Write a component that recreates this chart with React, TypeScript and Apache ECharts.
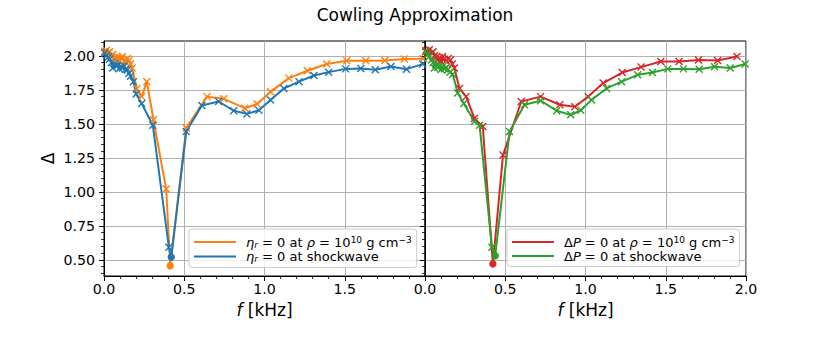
import React, { useEffect, useRef } from 'react';
import * as echarts from 'echarts';

// ---- data (frequency in kHz, Delta) ----
const fEtaRho = [0.005, 0.015, 0.025, 0.035, 0.045, 0.055, 0.065, 0.075, 0.085, 0.095, 0.105, 0.115, 0.125, 0.135, 0.145, 0.155, 0.165, 0.175, 0.204, 0.235, 0.267, 0.308, 0.3875, 0.4125, 0.5125, 0.642, 0.746, 0.877, 0.954, 1.0375, 1.152, 1.267, 1.3875, 1.5125, 1.631, 1.75, 1.871, 1.99];
const dEtaRho = [2.03, 2.04, 2.02, 2.03, 2.0, 2.01, 1.99, 1.97, 1.99, 1.96, 1.98, 1.995, 1.96, 1.95, 1.98, 1.965, 1.94, 1.91, 1.76, 1.7, 1.81, 1.53, 1.02, 0.456, 1.47, 1.7, 1.684, 1.615, 1.646, 1.735, 1.836, 1.89, 1.94, 1.963, 1.963, 1.966, 1.976, 1.978];

const fEtaShock = [0.005, 0.015, 0.025, 0.035, 0.045, 0.055, 0.065, 0.075, 0.085, 0.095, 0.105, 0.115, 0.125, 0.135, 0.145, 0.155, 0.165, 0.183, 0.2, 0.235, 0.304, 0.404, 0.419, 0.5125, 0.61, 0.714, 0.808, 0.89, 0.965, 1.0375, 1.12, 1.215, 1.308, 1.4, 1.506, 1.6, 1.69, 1.7875, 1.885, 1.985];
const dEtaShock = [2.02, 2.0, 1.99, 1.975, 1.95, 1.91, 1.94, 1.925, 1.93, 1.905, 1.92, 1.91, 1.925, 1.9, 1.895, 1.87, 1.85, 1.81, 1.72, 1.65, 1.49, 0.593, 0.52, 1.443, 1.635, 1.664, 1.596, 1.573, 1.6, 1.676, 1.76, 1.81, 1.855, 1.88, 1.904, 1.907, 1.897, 1.921, 1.902, 1.939];

const fPRho = [0.005, 0.015, 0.027, 0.04, 0.05, 0.06, 0.07, 0.08, 0.09, 0.1, 0.11, 0.12, 0.131, 0.145, 0.158, 0.17, 0.183, 0.215, 0.256, 0.308, 0.36, 0.423, 0.486, 0.6, 0.72, 0.84, 0.933, 1.017, 1.11, 1.229, 1.346, 1.469, 1.583, 1.704, 1.823, 1.944];
const dPRho = [2.04, 2.03, 2.045, 2.02, 2.03, 2.0, 1.99, 1.97, 1.985, 1.96, 1.995, 1.975, 1.963, 1.98, 1.97, 1.94, 1.91, 1.76, 1.7, 1.54, 1.48, 0.47, 1.27, 1.664, 1.7, 1.64, 1.625, 1.7, 1.8, 1.877, 1.917, 1.958, 1.958, 1.97, 1.966, 1.995];

const fPShock = [0.005, 0.015, 0.0275, 0.04, 0.05, 0.058, 0.068, 0.079, 0.09, 0.1, 0.11, 0.121, 0.132, 0.142, 0.155, 0.173, 0.204, 0.242, 0.308, 0.34, 0.417, 0.4375, 0.527, 0.62, 0.72, 0.82, 0.908, 0.971, 1.0375, 1.131, 1.225, 1.325, 1.417, 1.5125, 1.61, 1.708, 1.804, 1.902, 1.995];
const dPShock = [2.03, 2.01, 1.995, 1.97, 1.95, 1.91, 1.935, 1.915, 1.925, 1.9, 1.92, 1.905, 1.915, 1.895, 1.88, 1.865, 1.726, 1.65, 1.517, 1.49, 0.593, 0.53, 1.443, 1.64, 1.67, 1.596, 1.566, 1.6, 1.676, 1.76, 1.81, 1.86, 1.877, 1.904, 1.904, 1.902, 1.92, 1.91, 1.94];

const xTicks = [0, 0.5, 1.0, 1.5, 2.0];
const yMajorTicks = [0.5, 0.75, 1.0, 1.25, 1.5, 1.75, 2.0];
const Y_MIN = 0.381;
const Y_MAX = 2.109;

const FONT = 'DejaVu Sans';
const C_ORANGE = '#ff7f0e';
const C_BLUE = '#1f77b4';
const C_RED = '#d62728';
const C_GREEN = '#2ca02c';

const yMinorTicks: number[] = [];
for (let k = 8; k <= 42; k++) {
  const v = Math.round(k * 5) / 100;
  if (Math.abs((v / 0.25) - Math.round(v / 0.25)) > 1e-6) yMinorTicks.push(v);
}

const CROSS = 'path://M0,0L10,10M10,0L0,10';

function buildData(fs: number[], ds: number[]) {
  let minI = 0;
  ds.forEach((d, i) => { if (d < ds[minI]) minI = i; });
  return fs.map((f, i) =>
    i === minI
      ? { value: [f, ds[i]], symbol: 'circle', symbolSize: 6 }
      : [f, ds[i]]
  );
}

const LEGEND_LABELS: Record<string, string> = {
  etaRho: '{g|}{i|η}{sub|r}{n| = 0 at }{i|ρ}{n| = 10}{sup|10}{n| g cm}{sup|−3}',
  etaShock: '{g|}{i|η}{sub|r}{n| = 0 at shockwave}',
  pRho: '{g|}{n|Δ}{i|P}{n| = 0 at }{i|ρ}{n| = 10}{sup|10}{n| g cm}{sup|−3}',
  pShock: '{g|}{n|Δ}{i|P}{n| = 0 at shockwave}',
};

const legendRich = {
  g: { width: 5 },
  n: { fontSize: 13, lineHeight: 14, color: '#000', fontFamily: FONT },
  i: { fontSize: 13, lineHeight: 14, color: '#000', fontFamily: FONT, fontStyle: 'italic' },
  sub: { fontSize: 9, lineHeight: 6, color: '#000', fontFamily: FONT, fontStyle: 'italic', verticalAlign: 'bottom' },
  sup: { fontSize: 9, lineHeight: 6, color: '#000', fontFamily: FONT, verticalAlign: 'top' },
};

function makeLegend(data: string[], left: number, top: number) {
  return {
    data,
    orient: 'vertical',
    left,
    top,
    icon: 'rect',
    itemWidth: 42,
    itemHeight: 2,
    itemGap: 1,
    padding: [6, 5, 4, 5],
    backgroundColor: 'rgba(255,255,255,0.8)',
    borderColor: '#cccccc',
    borderWidth: 1,
    borderRadius: 3,
    itemStyle: { borderWidth: 0 },
    selectedMode: false,
    formatter: (name: string) => LEGEND_LABELS[name],
    textStyle: { fontSize: 13, color: '#000', fontFamily: FONT, rich: legendRich },
  };
}

function xAxisFor(gridIndex: number, showMax: boolean) {
  return {
    gridIndex,
    type: 'value',
    min: xTicks[0],
    max: xTicks[xTicks.length - 1],
    interval: 0.5,
    axisLine: { show: true, lineStyle: { color: '#000', width: 1 } },
    axisTick: { show: true, length: 5, lineStyle: { color: '#000', width: 1 } },
    minorTick: { show: true, splitNumber: 5, length: 3, lineStyle: { color: '#000', width: 0.8 } },
    axisLabel: {
      show: true,
      color: '#000',
      fontSize: 14.2,
      fontFamily: FONT,
      margin: 6,
      showMaxLabel: showMax,
      formatter: (v: number) => v.toFixed(1),
    },
    splitLine: { show: true, lineStyle: { color: '#b0b0b0', width: 1 } },
    name: '{i|f} [kHz]',
    nameLocation: 'middle',
    nameGap: 25,
    nameTextStyle: {
      fontSize: 17,
      color: '#000',
      fontFamily: FONT,
      rich: { i: { fontSize: 17, fontStyle: 'italic', color: '#000', fontFamily: FONT } },
    },
  };
}

function yAxisMain(gridIndex: number, showLabels: boolean) {
  return {
    gridIndex,
    type: 'value',
    position: 'left',
    min: Y_MIN,
    max: Y_MAX,
    axisLine: { show: true, lineStyle: { color: '#000', width: 1 } },
    axisTick: { show: true, length: 5, customValues: yMajorTicks, lineStyle: { color: '#000', width: 1 } },
    axisLabel: {
      show: showLabels,
      customValues: yMajorTicks,
      color: '#000',
      fontSize: 14.2,
      fontFamily: FONT,
      margin: 9,
      formatter: (v: number) => v.toFixed(2),
    },
    splitLine: { show: true, lineStyle: { color: '#b0b0b0', width: 1 } },
    ...(showLabels
      ? {
          name: 'Δ',
          nameLocation: 'middle',
          nameGap: 48,
          nameRotate: 90,
          nameTextStyle: { fontSize: 17, color: '#000', fontFamily: FONT },
        }
      : {}),
  };
}

function yAxisMinor(gridIndex: number) {
  return {
    gridIndex,
    type: 'value',
    position: 'left',
    min: Y_MIN,
    max: Y_MAX,
    axisLine: { show: false },
    axisTick: { show: true, length: 3, customValues: yMinorTicks, lineStyle: { color: '#000', width: 0.8 } },
    axisLabel: { show: false },
    splitLine: { show: false },
  };
}

function lineSeries(name: string, color: string, fs: number[], ds: number[], xi: number, yi: number) {
  return {
    name,
    type: 'line',
    xAxisIndex: xi,
    yAxisIndex: yi,
    data: buildData(fs, ds),
    color,
    symbol: CROSS,
    symbolSize: 7,
    showAllSymbol: true,
    lineStyle: { color, width: 2 },
    itemStyle: { color, borderColor: color, borderWidth: 1.4 },
    emphasis: { disabled: true },
    silent: true,
  };
}

export default function App() {
  const ref = useRef<HTMLDivElement>(null);
  useEffect(() => {
    if (!ref.current) return;
    const chart = echarts.init(ref.current, undefined, { renderer: 'svg' });
    chart.setOption({
      animation: false,
      backgroundColor: '#fff',
      textStyle: { fontFamily: FONT },
      title: {
        text: 'Cowling Approximation',
        left: 'center',
        top: 6,
        padding: 0,
        textStyle: { fontSize: 17, fontWeight: 'normal', color: '#000', fontFamily: FONT },
      },
      grid: [
        { left: 104, top: 41, width: 321, height: 235, show: true, borderColor: '#000', borderWidth: 1, backgroundColor: 'transparent', containLabel: false },
        { left: 425, top: 41, width: 321, height: 235, show: true, borderColor: '#000', borderWidth: 1, backgroundColor: 'transparent', containLabel: false },
      ],
      xAxis: [xAxisFor(0, false), xAxisFor(1, true)],
      yAxis: [yAxisMain(0, true), yAxisMain(1, false), yAxisMinor(0), yAxisMinor(1)],
      legend: [makeLegend(['etaRho', 'etaShock'], 189, 229), makeLegend(['pRho', 'pShock'], 507, 229)],
      series: [
        lineSeries('etaRho', C_ORANGE, fEtaRho, dEtaRho, 0, 0),
        lineSeries('etaShock', C_BLUE, fEtaShock, dEtaShock, 0, 0),
        lineSeries('pRho', C_RED, fPRho, dPRho, 1, 1),
        lineSeries('pShock', C_GREEN, fPShock, dPShock, 1, 1),
      ],
    });
    return () => chart.dispose();
  }, []);
  return (
    <div
      ref={ref}
      style={{ position: 'fixed', left: 0, top: 0, width: 830, height: 346, background: '#fff' }}
    />
  );
}
